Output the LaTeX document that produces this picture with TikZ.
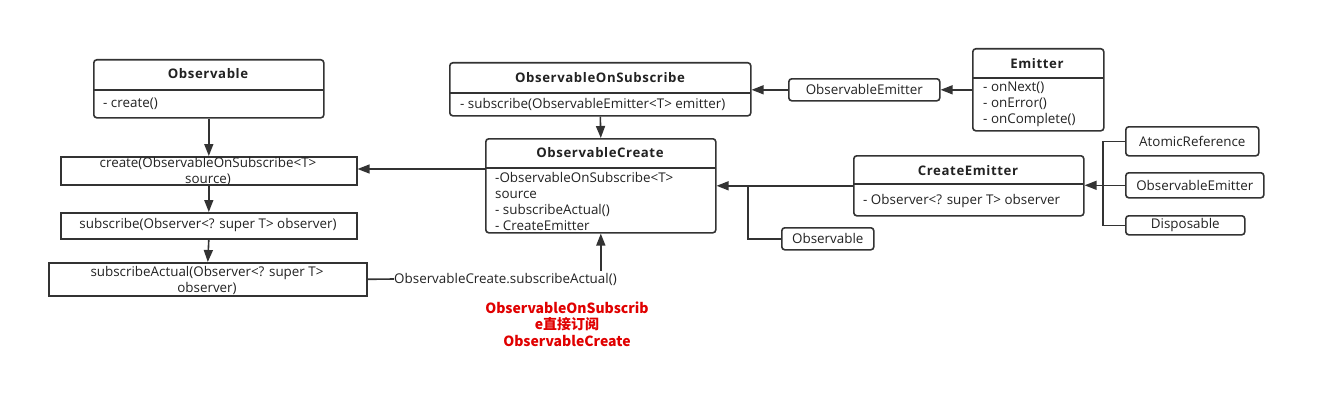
\documentclass[tikz,border=0pt]{standalone}
\usepackage{fontspec}
\setmainfont{Open Sans}
\newfontfamily\ttlfont[LetterSpace=4.5]{Open Sans}
\newfontfamily\cjkfont{Noto Sans CJK SC}
\usetikzlibrary{arrows.meta}
\definecolor{ln}{HTML}{333333}
\definecolor{tx}{HTML}{222222}
\definecolor{redtxt}{HTML}{E00000}
\begin{document}
\begin{tikzpicture}[x=1pt,y=-1pt,
  box/.style={draw=ln, line width=1.6pt, inner sep=0pt, anchor=north west},
  cls/.style={box, rounded corners=3pt},
  txt/.style={inner sep=0pt, text=tx, font=\fontsize{13.4}{16}\selectfont},
  ttl/.style={inner sep=0pt, text=tx, font=\ttlfont\bfseries\fontsize{13.2}{16}\selectfont},
  arr/.style={draw=ln, line width=1.6pt, -{Triangle[length=12pt,width=9pt]}},
  conn/.style={draw=ln, line width=1.6pt},
]
\useasboundingbox (0,0) rectangle (1324,412);

% Observable class
\node[cls, minimum width=230pt, minimum height=58pt] (obs) at (93,59) {};
\draw[conn] (93,90) -- (323,90);
\node[ttl] (obsT) at (208,74) {Observable};
\node[txt, anchor=west] (obsB) at (103,104) {- create()};

% left column steps
\node[box, minimum width=296pt, minimum height=28pt] (cre) at (60,156) {};
\node[txt, align=center] (creT) at (208,171) {create(ObservableOnSubscribe<T>\\source)};
\node[box, minimum width=296pt, minimum height=26pt] (sub) at (60,212) {};
\node[txt] (subT) at (208,225) {subscribe(Observer<? super T> observer)};
\node[box, minimum width=318pt, minimum height=33pt] (sa) at (48,262) {};
\node[txt, align=center] (saT) at (207,280) {subscribeActual(Observer<? super T>\\observer)};

\draw[arr] (obs.south) -- (cre.north);
\draw[arr] (cre.south) -- (sub.north);
\draw[arr] (sub.south) -- (sa.north);

% ObservableOnSubscribe
\node[cls, minimum width=301pt, minimum height=53pt] (oos) at (449,62) {};
\draw[conn] (449,93) -- (750,93);
\node[ttl] (oosT) at (600,78) {ObservableOnSubscribe};
\node[txt, anchor=west] (oosB) at (460,104) {- subscribe(ObservableEmitter<T> emitter)};

% ObservableCreate
\node[cls, minimum width=230pt, minimum height=94pt] (oc) at (485,138) {};
\draw[conn] (485,168) -- (715,168);
\node[ttl] (ocT) at (600,153) {ObservableCreate};
\node[txt, anchor=west, align=left] (ocB) at (495,201) {-ObservableOnSubscribe<T>\\source\\- subscribeActual()\\- CreateEmitter};

\draw[arr] (oos.south) -- (oc.north);
\coordinate (ocD) at (485,169);
\draw[arr] (ocD) -- (ocD -| cre.east);

% Emitter
\node[cls, minimum width=131pt, minimum height=82pt] (em) at (972,48) {};
\draw[conn] (972,78) -- (1103,78);
\node[ttl] (emT) at (1037,64) {Emitter};
\node[txt, anchor=west, align=left] (emB) at (983,104.5) {- onNext()\\- onError()\\- onComplete()};

\node[cls, minimum width=151pt, minimum height=22pt] (oe1) at (788,78) {};
\node[txt] (oe1T) at (oe1.center) {ObservableEmitter};
\draw[arr] (em.west) -- (oe1.east);
\draw[arr] (oe1.west) -- (oe1.west -| oos.east);

% CreateEmitter
\node[cls, minimum width=230pt, minimum height=60pt] (ce) at (853,155) {};
\draw[conn] (853,184) -- (1083,184);
\node[ttl] (ceT) at (968,171) {CreateEmitter};
\node[txt, anchor=west] (ceB) at (863,201) {- Observer<? super T> observer};

\draw[arr] (ce.west) -- (ce.west -| oc.east);
\node[cls, minimum width=92pt, minimum height=22pt] (obs2) at (781,227) {};
\node[txt] (obs2T) at (obs2.center) {Observable};
\coordinate (j) at (748,185);
\draw[conn] (obs2.west) -| (j);

% right group
\node[cls, minimum width=133pt, minimum height=29pt] (ar) at (1125,126) {};
\node[txt] (arT) at (ar.center) {AtomicReference};
\node[cls, minimum width=138pt, minimum height=25pt] (oe2) at (1125,172) {};
\node[txt] (oe2T) at (oe2.center) {ObservableEmitter};
\node[cls, minimum width=119pt, minimum height=19pt] (ds) at (1125,215) {};
\node[txt] (dsT) at (ds.center) {Disposable};
\coordinate (bx) at (1103,0);
\draw[conn] (ar.west) -- (ar.west -| bx) -- (ds.west -| bx) -- (ds.west);
\draw[arr] (oe2.west) -- (oe2.west -| ce.east);

% bottom label
\node[txt, anchor=west] (lbl) at (394,279) {ObservableCreate.subscribeActual()};
\draw[conn] (sa.east) -- (lbl.west);
\draw[arr] ([yshift=2pt]lbl.north -| oc.south) -- (oc.south);

\node[text=redtxt, align=center, inner sep=0pt, font=\cjkfont\bfseries\fontsize{14}{16.5}\selectfont] (note) at (567,324) {ObservableOnSubscrib\\e直接订阅\\ObservableCreate};
\end{tikzpicture}
\end{document}
